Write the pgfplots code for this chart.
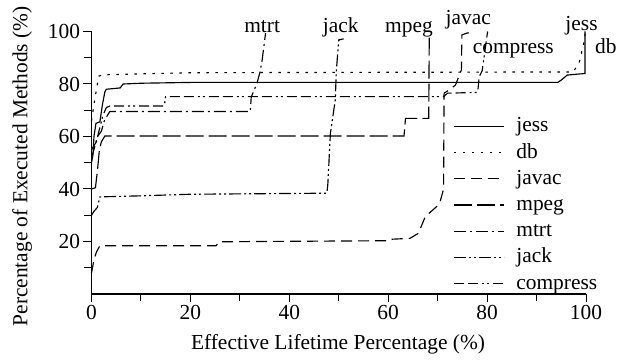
\documentclass[border=0pt]{standalone}
\usepackage{fontspec}
\setmainfont{Liberation Serif}
\usepackage{pgfplots}
\pgfplotsset{compat=1.18}
\begin{document}
\begin{tikzpicture}[font=\fontsize{21.5}{24}\selectfont]
\begin{axis}[
  scale only axis, width=494.5bp, height=262.5bp,
  xmin=0, xmax=100, ymin=0, ymax=100,
  axis lines*=left,
  axis line style={line width=1.4bp},
  tick align=outside,
  major tick length=8bp, minor tick length=7bp,
  tick style={line width=1bp, black},
  xtick={0,20,...,100}, minor xtick={10,30,...,90},
  ytick={20,40,...,100}, minor ytick={10,30,...,90},
  /pgf/number format/assume math mode=true,
  xlabel={Effective Lifetime Percentage (\%)},
  ylabel={Percentage of Executed Methods (\%)},
  x label style={at={(axis description cs:0.4985,-0.19)}, anchor=center},
  y label style={at={(axis description cs:-0.1405,0.486)}, anchor=center, rotate=0},
  clip=false,
  legend style={draw=none, fill=none, at={(axis description cs:0.725,0.687)}, anchor=north west,
    row sep=5.2bp, nodes={inner sep=0bp, text height=16bp, text depth=5bp},
    /tikz/every odd column/.append style={column sep=12bp}},
  legend cell align=left,
  legend image code/.code={\draw[#1] (0bp,0bp) -- (50bp,0bp);},
  every axis plot/.append style={line width=1.15bp, black},
]
% jess
\addplot[solid] coordinates {(0,50)(0.3,53)(0.5,60)(0.9,65)(1.7,65.6)(2.2,72)(2.7,77)(3,78)(5.8,78.5)(6.4,80)(10.2,80.3)(20,80.6)(94.3,80.6)(95,81.5)(96.2,83.4)(99.8,84)(99.8,100)};
% db
\addplot[dash pattern=on 2.5bp off 6.5bp] coordinates {(0,66)(0.5,72)(1,78)(1.5,83)(2.2,83.5)(20,84.3)(97.4,84.6)(98.6,88)(99.5,95)(99.9,100)};
% javac
\addplot[dash pattern=on 11bp off 6bp] coordinates {(0,8)(0.5,13)(1,16)(1.7,18.4)(25.2,18.4)(25.8,19.9)(59.7,20.3)(60,20.8)(64.4,21.2)(66.1,23.1)(67.5,29.5)(69.8,33.3)(70.5,35.2)(71.2,40)(71.3,76.5)(72.3,77.7)(73.6,79.6)(74.8,85.3)(74.9,98.7)(75.9,99.4)(76.9,99.6)};
% mpeg
\addplot[dash pattern=on 18bp off 5bp] coordinates {(0,40)(0.8,40.5)(1.2,47)(1.6,55)(2,58)(2.7,60.2)(63.2,60.2)(63.5,66.9)(68.2,66.9)(68.3,98)};
% mtrt
\addplot[dash pattern=on 12bp off 4bp on 2bp off 4bp] coordinates {(0,52)(0.5,55)(1.2,60)(2,62)(2.6,66)(3.2,68)(3.7,69.5)(32.1,69.5)(32.3,75)(33.5,80.5)(34.1,84.7)(34.5,89)(35.2,99.4)};
% jack
\addplot[dash pattern=on 12bp off 3bp on 2bp off 3bp on 2bp off 3bp] coordinates {(0,30)(0.5,31.5)(1.2,33)(1.7,37)(10,37.4)(20,38)(47.6,38.4)(47.8,42)(48.3,61)(49.3,74)(49.5,84.7)(50,96.8)(51,97.2)};
% compress
\addplot[dash pattern=on 10bp off 4bp on 10bp off 4bp on 2bp off 3bp on 2bp off 4bp] coordinates {(0,55)(1,58)(1.5,62)(2.3,68)(3,71)(3.7,71.6)(14.7,71.6)(15,75.2)(71.2,75.2)(72,76.5)(78.1,76.8)(78.4,82.8)(79,85)(79.4,90.4)(80.1,100)};
\legend{jess,db,javac,mpeg,mtrt,jack,compress}
\node[anchor=base] at (axis cs:34.5,99.5) {mtrt};
\node[anchor=base] at (axis cs:50.4,99.5) {jack};
\node[anchor=base] at (axis cs:64.2,99.5) {mpeg};
\node[anchor=base] at (axis cs:76.2,102.5) {javac};
\node[anchor=base] at (axis cs:85.3,91.7) {compress};
\node[anchor=base] at (axis cs:99.1,100.3) {jess};
\node[anchor=base] at (axis cs:104,91.7) {db};
\end{axis}
\pgfresetboundingbox
\useasboundingbox (-91.5bp,-66bp) rectangle (537.5bp,294bp);
\end{tikzpicture}
\end{document}
